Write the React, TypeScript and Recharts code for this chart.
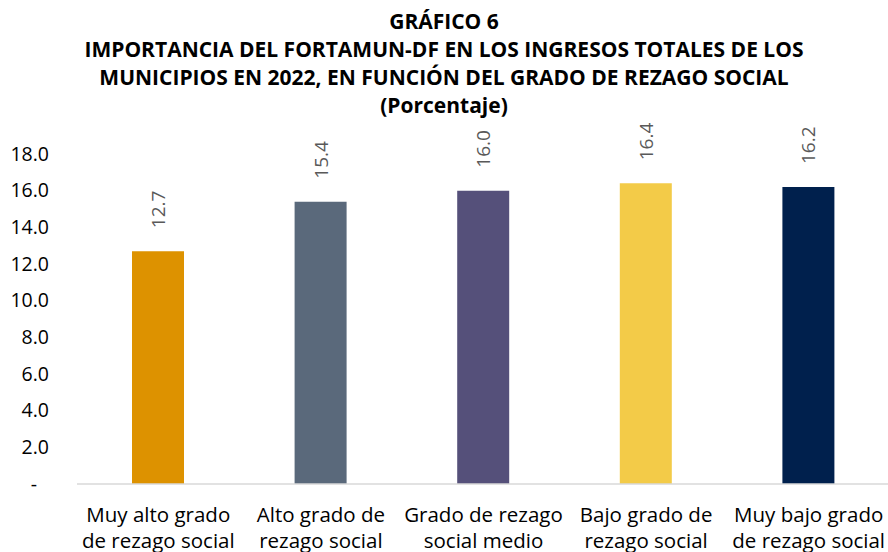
import React from 'react';
import { BarChart, Bar, XAxis, YAxis, Cell, LabelList } from 'recharts';

const categories = [
  'Muy alto grado\nde rezago social',
  'Alto grado de\nrezago social',
  'Grado de rezago\nsocial medio',
  'Bajo grado de\nrezago social',
  'Muy bajo grado\nde rezago social',
];
const values = [12.7, 15.4, 16.0, 16.4, 16.2];
const barColors = ['#DD9200', '#5A697B', '#55507A', '#F3CB48', '#00204D'];
const yTicks = [0, 2, 4, 6, 8, 10, 12, 14, 16, 18];
const titleLines = [
  'GRÁFICO 6',
  'IMPORTANCIA DEL FORTAMUN-DF EN LOS INGRESOS TOTALES DE LOS',
  'MUNICIPIOS EN 2022, EN FUNCIÓN DEL GRADO DE REZAGO SOCIAL',
  '(Porcentaje)',
];

const data = categories.map((name, i) => ({ name, value: values[i] }));

const FONT = '"Open Sans", "Noto Sans", sans-serif';

const CategoryTick = (props: any) => {
  const { x, y, payload } = props;
  const lines = String(payload.value).split('\n');
  return (
    <text x={x} y={y + 38} textAnchor="middle" fill="#000" fontSize={20.5} fontFamily={FONT}>
      {lines.map((l, i) => (
        <tspan key={i} x={x} dy={i === 0 ? 0 : 25.5}>{l}</tspan>
      ))}
    </text>
  );
};

const ValueTick = (props: any) => {
  const { x, y, payload } = props;
  const v = payload.value as number;
  return (
    <text
      x={v === 0 ? x - 12 : x}
      y={y - 1}
      textAnchor="end"
      dominantBaseline="central"
      fill="#000"
      fontSize={19.5}
      fontFamily={FONT}
    >
      {v === 0 ? '-' : v.toFixed(1)}
    </text>
  );
};

const RotatedLabel = (props: any) => {
  const { x, y, width, value } = props;
  const cx = x + width / 2;
  const cy = y - 23;
  return (
    <text
      x={cx}
      y={cy}
      transform={`rotate(-90, ${cx}, ${cy})`}
      textAnchor="start"
      dominantBaseline="central"
      fill="#595959"
      fontSize={19}
      fontFamily={FONT}
    >
      {Number(value).toFixed(1)}
    </text>
  );
};

export default function App() {
  return (
    <div style={{ position: 'absolute', left: 0, top: 0, width: 888, height: 552, background: '#fff', overflow: 'hidden' }}>
      <div style={{ position: 'absolute', left: 0, top: 7, width: 888, textAlign: 'center', fontFamily: FONT, fontWeight: 700, fontSize: 21, lineHeight: '28px', color: '#000', whiteSpace: 'nowrap' }}>
        {titleLines.map((t, i) => (
          <div key={i}>{t}</div>
        ))}
      </div>
      <div style={{ position: 'absolute', left: 0, top: 0 }}>
        <BarChart width={890} height={552} data={data} margin={{ top: 154, right: 0, bottom: 0, left: 0 }}>
          <XAxis
            dataKey="name"
            interval={0}
            tickLine={false}
            tickSize={0}
            tickMargin={0}
            height={68}
            axisLine={{ stroke: '#D9D9D9', strokeWidth: 1.5 }}
            tick={<CategoryTick />}
          />
          <YAxis
            domain={[0, 18]}
            ticks={yTicks}
            width={77}
            axisLine={false}
            tickLine={false}
            tickSize={0}
            tickMargin={28}
            tick={<ValueTick />}
          />
          <Bar dataKey="value" barSize={52} isAnimationActive={false}>
            {data.map((d, i) => (
              <Cell key={d.name} fill={barColors[i]} />
            ))}
            <LabelList dataKey="value" content={<RotatedLabel />} />
          </Bar>
        </BarChart>
      </div>
    </div>
  );
}
